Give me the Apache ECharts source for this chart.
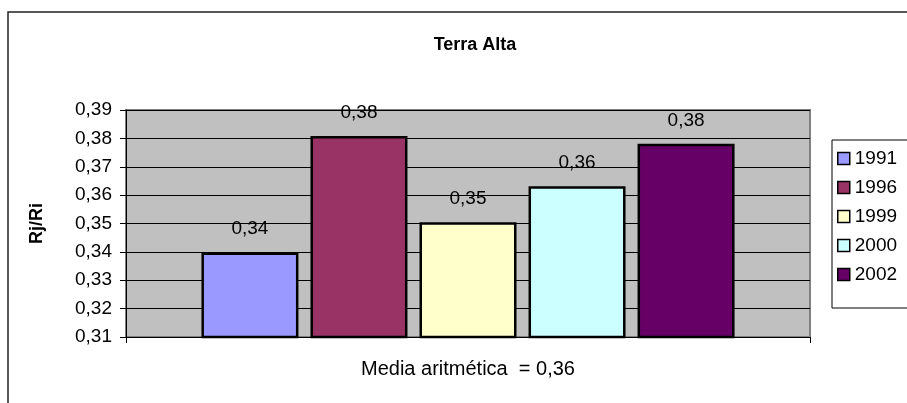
<!DOCTYPE html>
<html>
<head>
<meta charset="utf-8">
<script src="https://cdn.jsdelivr.net/npm/echarts@6/dist/echarts.min.js"></script>
<style>
html,body{margin:0;padding:0;background:#fff;}
#chart{width:907px;height:403px;}
</style>
</head>
<body>
<div id="chart"></div>
<script>
const title = 'Terra Alta';
const categories = ['Media aritmética  = 0,36'];
const seriesNames = ['1991', '1996', '1999', '2000', '2002'];
const seriesValues = [0.3398, 0.3808, 0.3504, 0.3631, 0.3781];
const seriesColors = ['#9999FF', '#993366', '#FFFFCC', '#CCFFFF', '#660066'];
const yTicks = [0.31, 0.32, 0.33, 0.34, 0.35, 0.36, 0.37, 0.38, 0.39];
const yName = 'Rj/Ri';

const FONT = 'Liberation Sans, Arial, sans-serif';
const fmt = v => v.toFixed(2).replace('.', ',');

const chart = echarts.init(document.getElementById('chart'), null, {renderer: 'canvas'});
const series = seriesNames.map((n, i) => ({
  name: n,
  type: 'bar',
  data: [seriesValues[i]],
  barWidth: 97,
  barGap: '12.4%',
  itemStyle: {color: seriesColors[i], borderColor: '#000', borderWidth: 2.5},
  label: {
    show: true, position: 'top', distance: 14,
    formatter: p => fmt(p.value),
    fontFamily: FONT, fontSize: 19, color: '#000'
  },
  emphasis: {disabled: true}
}));

chart.setOption({
  animation: false,
  backgroundColor: '#fff',
  title: {
    text: title, left: 470, top: 31, textAlign: 'center',
    textStyle: {fontFamily: FONT, fontSize: 18, fontWeight: 'bold', color: '#000'}
  },
  grid: {
    left: 126, top: 110, width: 684, height: 227,
    show: true, backgroundColor: '#C0C0C0', borderColor: '#808080', borderWidth: 2
  },
  legend: {
    orient: 'vertical', left: 837, top: 149, padding: 0,
    itemWidth: 12, itemHeight: 12, itemGap: 10,
    icon: 'rect',
    textStyle: {fontFamily: FONT, fontSize: 19, color: '#000', padding: [0,0,0,0]},
    itemStyle: {borderColor: '#000', borderWidth: 1.5},
    data: seriesNames
  },
  xAxis: {
    type: 'category', data: categories,
    axisLine: {show: true, lineStyle: {color: '#000', width: 1}},
    axisTick: {show: true, length: 6, lineStyle: {color: '#000'}},
    axisLabel: {fontFamily: FONT, fontSize: 20, color: '#000', margin: 22}
  },
  yAxis: {
    type: 'value', min: 0.31, max: 0.39, interval: 0.01,
    name: yName, nameLocation: 'middle', nameGap: 80, nameRotate: 90,
    nameTextStyle: {fontFamily: FONT, fontSize: 18, fontWeight: 'bold', color: '#000'},
    axisLine: {show: true, lineStyle: {color: '#000', width: 1}},
    axisTick: {show: true, length: 6, lineStyle: {color: '#000'}},
    splitLine: {show: true, lineStyle: {color: '#000', width: 1}},
    axisLabel: {fontFamily: FONT, fontSize: 19, color: '#000', margin: 14,
      formatter: v => fmt(v)}
  },
  series: series,
  graphic: [
    {type: 'rect', shape: {x: 8, y: 12, width: 1000, height: 500},
      style: {fill: 'none', stroke: '#222', lineWidth: 1.5}, silent: true, z: 100},
    {type: 'rect', shape: {x: 832, y: 140, width: 200, height: 168},
      style: {fill: 'none', stroke: '#000', lineWidth: 1}, silent: true, z: 100}
  ]
});
</script>
</body>
</html>
